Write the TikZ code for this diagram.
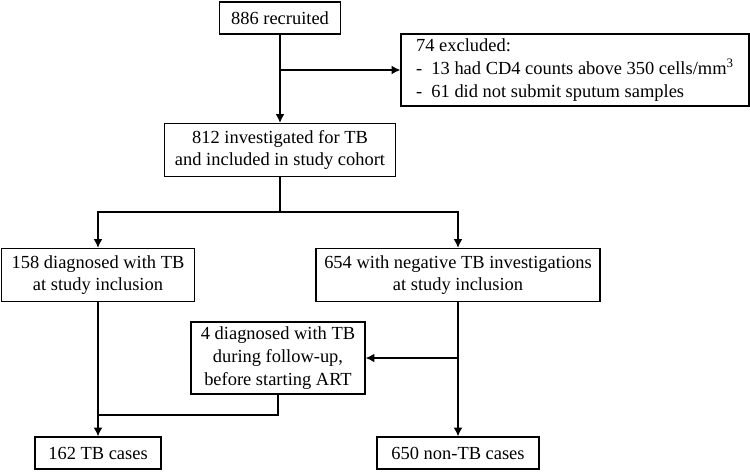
\documentclass[tikz,border=0pt]{standalone}
\usepackage{fontspec}
\setmainfont{Liberation Serif}
\usetikzlibrary{arrows.meta}
\tikzset{
    flowbox/.style={draw,align=center,inner sep=2pt,
        font=\fontsize{10.5}{13}\selectfont},
    flowarrow/.style={-{Latex[length=5pt,width=5pt]}},
}
\begin{document}
\begin{tikzpicture}[x=0.02cm,y=-0.02cm,line width=0.75pt]
    \useasboundingbox (0,0) rectangle (750,471);
    % boxes
    \node[flowbox,minimum width=2.42cm,minimum height=0.64cm] (recruited) at (280,18) {886 recruited};
    \node[flowbox,minimum width=6.96cm,minimum height=1.44cm,align=left] (excluded) at (575,70)
        {74 excluded:\\- \ 13 had CD4 counts above 350 cells/mm\textsuperscript{3}\\- \ 61 did not submit sputum samples};
    \node[flowbox,minimum width=4.62cm,minimum height=1.06cm] (cohort) at (280,150)
        {812 investigated for TB\\and included in study cohort};
    \node[flowbox,minimum width=3.86cm,minimum height=1.06cm] (positive) at (98,275)
        {158 diagnosed with TB\\at study inclusion};
    \node[flowbox,minimum width=5.68cm,minimum height=1.06cm] (negative) at (458,275)
        {654 with negative TB investigations\\at study inclusion};
    \node[flowbox,minimum width=3.48cm,minimum height=1.44cm] (followup) at (278,358)
        {4 diagnosed with TB\\during follow-up,\\before starting ART};
    \node[flowbox,minimum width=2.52cm,minimum height=0.64cm] (tbcases) at (98,453) {162 TB cases};
    \node[flowbox,minimum width=3.24cm,minimum height=0.64cm] (nontb) at (458,453) {650 non-TB cases};
    % split points
    \coordinate (exclsplit) at (280,70);
    \coordinate (fork) at (280,212);
    \coordinate (fupsplit) at (458,358);
    \coordinate (join) at (98,415);
    % connectors
    \draw[flowarrow] (recruited) -- (cohort);
    \draw[flowarrow] (exclsplit) -- (excluded);
    \draw[flowarrow] (cohort) -- (fork) -| (positive);
    \draw[flowarrow] (fork) -| (negative);
    \draw[flowarrow] (positive) -- (tbcases);
    \draw[flowarrow] (negative) -- (nontb);
    \draw[flowarrow] (fupsplit) -- (followup);
    \draw (followup) |- (join);
\end{tikzpicture}
\end{document}
